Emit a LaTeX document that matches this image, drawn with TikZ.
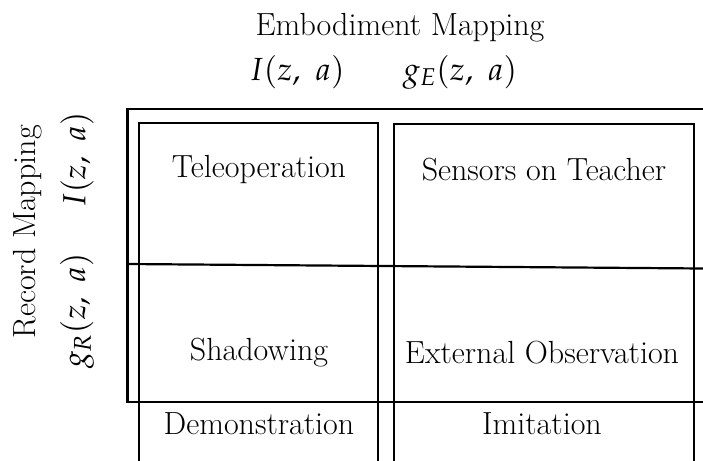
\documentclass[tikz,border=0pt]{standalone}
\usepackage{mathpazo}
\begin{document}
\begin{tikzpicture}[x=1pt,y=-1pt,
  lbl/.style={inner sep=0pt,font=\fontsize{32}{38}\selectfont},
  frame/.style={line width=2.2pt}]
\useasboundingbox (0,0) rectangle (703,460);
\clip (0,0) rectangle (703,460);
% outer frame (extends beyond the visible area on the right)
\coordinate (oTL) at (127.5,109);
\coordinate (oTR) at (720,109);
\coordinate (oBL) at (127.5,402);
\coordinate (oBR) at (720,402);
\draw[frame] (oTR) -- (oTL) -- (oBL) -- (oBR);
% column boxes (extend below the visible area)
\coordinate (aTL) at (139,123);
\coordinate (aTR) at (378,123);
\coordinate (aBL) at (139,480);
\coordinate (aBR) at (378,480);
\coordinate (bTL) at (394,124);
\coordinate (bTR) at (694,124);
\coordinate (bBL) at (394,480);
\coordinate (bBR) at (694,480);
\draw[frame] (aBL) -- (aTL) -- (aTR) -- (aBR);
\draw[frame] (bBL) -- (bTL) -- (bTR) -- (bBR);
% slanted middle line
\coordinate (mL) at (127.5,264);
\coordinate (mR) at (703,268.5);
\draw[frame] (mL) -- (mR);
% header texts
\node[lbl] (emb) at (400,28) {Embodiment Mapping};
\node[lbl] (eI) at (297,72) {$I(z,\ a)$};
\node[lbl] (eG) at (460,72) {$g_E(z,\ a)$};
% left texts
\node[lbl,rotate=90] (rec) at (28,232) {Record Mapping};
\node[lbl,rotate=90] (rI) at (77,160) {$I(z,\ a)$};
\node[lbl,rotate=90] (rG) at (77,311) {$g_R(z,\ a)$};
% cells
\node[lbl] (tele) at (259,170) {Teleoperation};
\node[lbl] (sens) at (544,170) {Sensors on Teacher};
\node[lbl] (shad) at (259,353) {Shadowing};
\node[lbl] (ext) at (542,353) {External Observation};
\node[lbl] (demo) at (259,424) {Demonstration};
\node[lbl] (imit) at (542,424) {Imitation};
\end{tikzpicture}
\end{document}
